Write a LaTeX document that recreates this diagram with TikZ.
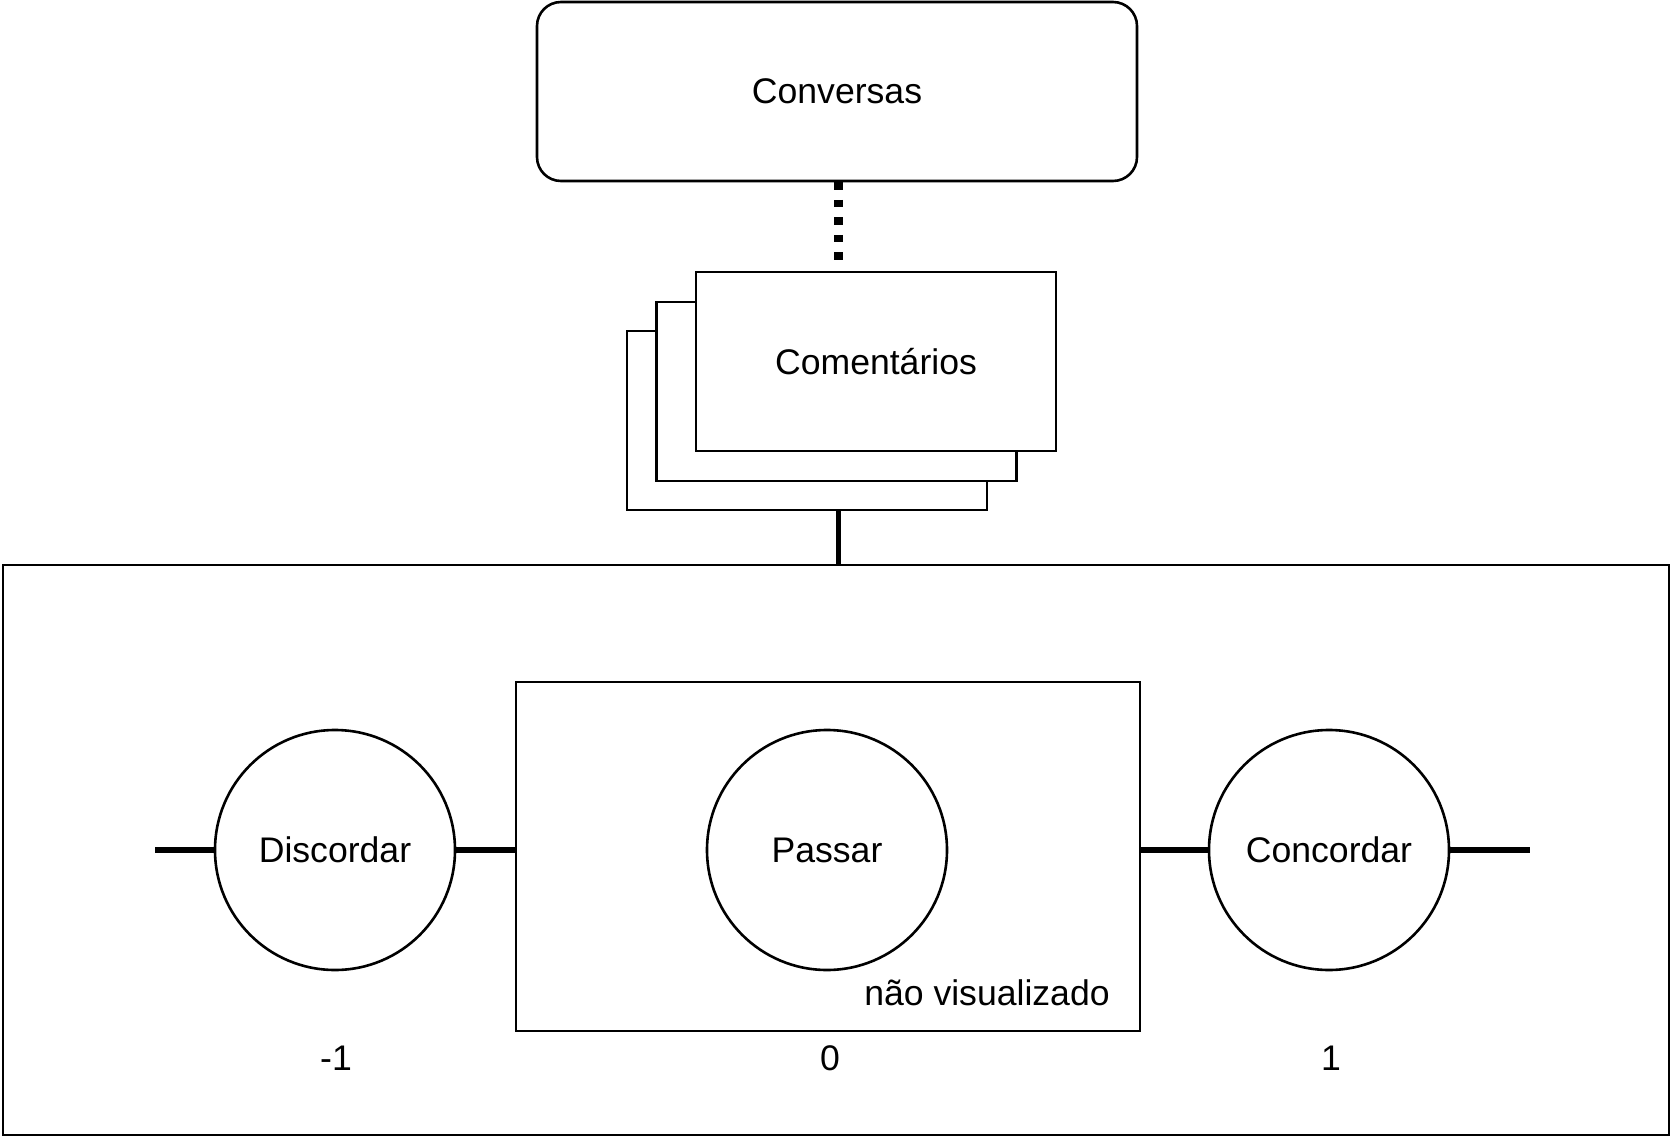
\documentclass[tikz,border=0pt]{standalone}
\usepackage{fontspec}
\setmainfont{Liberation Sans}
\usetikzlibrary{positioning}

\begin{document}
\begin{tikzpicture}[x=1pt,y=-1pt,
    font=\fontsize{35.6}{40}\selectfont,
    box/.style={draw, line width=2.6pt, fill=white, inner sep=0pt},
    vote/.style={draw, circle, line width=2.6pt, minimum size=240pt, inner sep=0pt},
    link/.style={line width=5.3pt},
    dots/.style={line width=8.7pt, dash pattern=on 7.5pt off 10pt}]
    \useasboundingbox (0,0) rectangle (1671,1137);

    %conversas
    \node[box, rounded corners=24pt, minimum width=600pt, minimum height=179pt] (conv) at (837,91.5) {Conversas};

    %comentarios (stack)
    \node[box, minimum width=360pt, minimum height=179pt] (back) at (807,420.5) {};
    \node[box, minimum width=360pt, minimum height=179pt] (mid) at (836.5,391.5) {};
    \node[box, minimum width=360pt, minimum height=179pt] (com) at (876,361.5) {Comentários};

    %votes frame
    \node[box, fill=none, minimum width=1666pt, minimum height=570pt] (frame) at (836,850) {};
    \node[box, fill=none, minimum width=624pt, minimum height=349pt] (pbox) at (828,856.5) {};

    \node[vote] (disc) at (335,850) {Discordar};
    \node[vote] (pass) at (827,850) {Passar};
    \node[vote] (conc) at (1329,850) {Concordar};

    %links
    \coordinate (dend) at (838.5,261);
    \draw[dots] (conv.south -| dend) -- (dend);
    \draw[link] (back.south -| dend) -- (frame.north -| dend);
    \coordinate (lend) at (155,850);
    \coordinate (rend) at (1530,850);
    \draw[link] (lend) -- (disc.west);
    \draw[link] (disc.east) -- (disc.east -| pbox.west);
    \draw[link] (conc.west -| pbox.east) -- (conc.west);
    \draw[link] (conc.east) -- (rend);

    %labels
    \node (nv) at (987,993) {não visualizado};
    \node (mone) at (336,1058) {-1};
    \node (zero) at (830,1058) {0};
    \node (one) at (1331,1058) {1};

\end{tikzpicture}
\end{document}
